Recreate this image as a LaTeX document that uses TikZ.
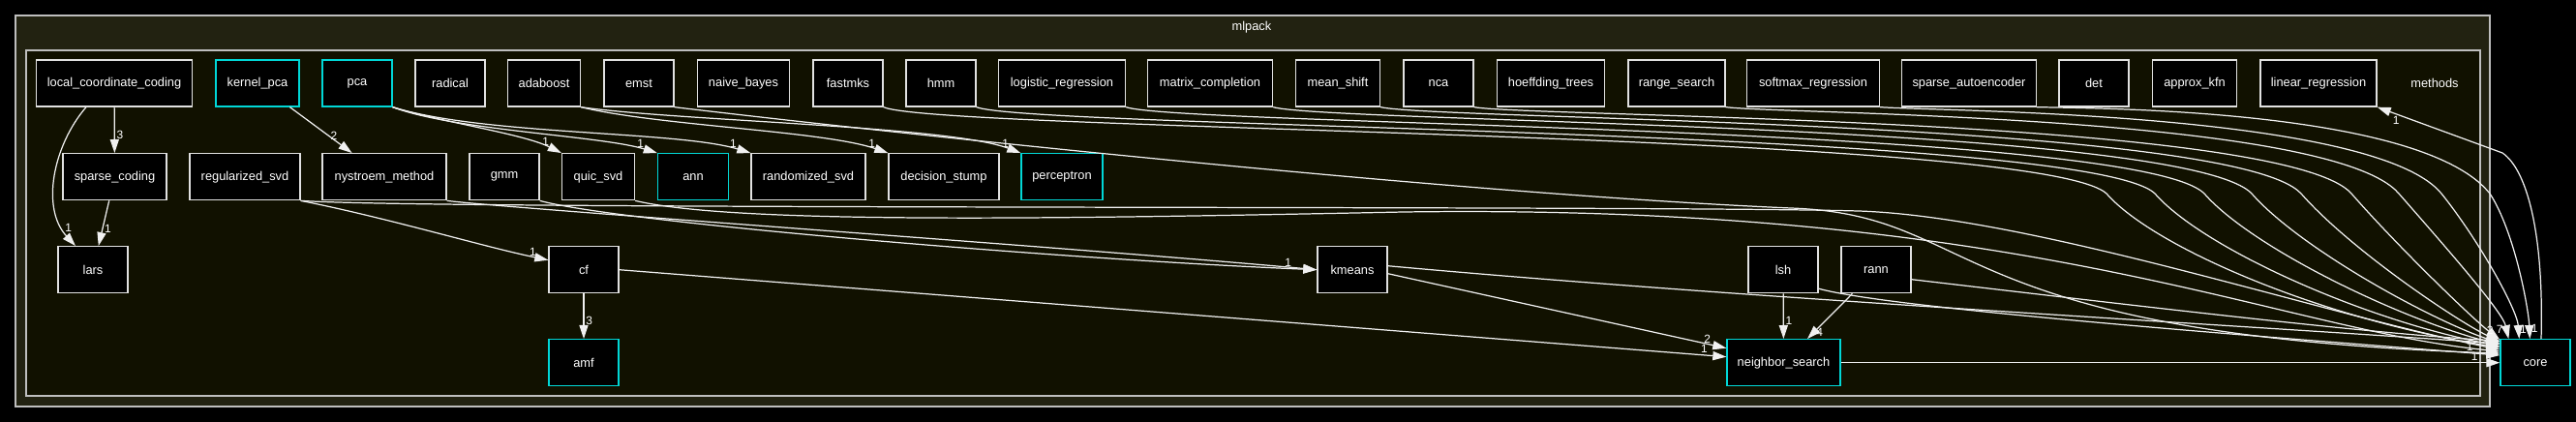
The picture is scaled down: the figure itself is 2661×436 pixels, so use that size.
\documentclass[tikz,border=0pt]{standalone}
\usepackage{fontspec}
\setmainfont{Liberation Sans}
\usepackage{tikz}
\usetikzlibrary{arrows.meta}
\definecolor{dirbg}{RGB}{17,17,0}
\definecolor{pkgbg}{RGB}{34,34,17}
\definecolor{frameline}{RGB}{190,190,190}
\definecolor{boxline}{RGB}{225,225,225}
\definecolor{dircyan}{RGB}{0,215,215}
\definecolor{edgeline}{RGB}{240,240,240}
\tikzset{
  dirbox/.style={rectangle, draw=boxline, fill=black, text=white,
    minimum width=1.44cm, minimum height=0.96cm, inner sep=0pt,
    font=\fontsize{7.3}{8.8}\selectfont, line width=0.75pt},
  cyanbox/.style={dirbox, draw=dircyan},
  clusterframe/.style={draw=frameline, line width=0.75pt},
  clusterlbl/.style={text=white, inner sep=0pt, font=\fontsize{7.3}{8.8}\selectfont},
  dep/.style={-{Triangle[length=8pt, width=5.2pt]}, line width=0.7pt, color=edgeline},
  deplbl/.style={font=\fontsize{6.8}{8}\selectfont, text=white, inner sep=1pt}
}
\begin{document}
\begin{tikzpicture}[x=0.02cm, y=-0.02cm]
  % Canvas
  \fill[black] (0,0) rectangle (2661,436);
  \useasboundingbox (0,0) rectangle (2661,436);
  % Clusters
  \filldraw[clusterframe, fill=pkgbg] (16,16) rectangle (2572,420);
  \filldraw[clusterframe, fill=dirbg] (27,52) rectangle (2562,409);
  \node[clusterlbl] (mlpacklbl) at (1293,28) {mlpack};
  \node[clusterlbl] (methodslbl) at (2515,86) {methods};
  % Row 1
  \node[dirbox, minimum width=3.22cm] (lcc) at (118,86) {local\_coordinate\_coding};
  \node[cyanbox, minimum width=1.72cm] (kernelpca) at (266,86) {kernel\_pca};
  \node[cyanbox] (pca) at (369,86) {pca};
  \node[dirbox] (radical) at (465,86) {radical};
  \node[dirbox, minimum width=1.5cm] (adaboost) at (562,86) {adaboost};
  \node[dirbox] (emst) at (660,86) {emst};
  \node[dirbox, minimum width=1.9cm] (naivebayes) at (768,86) {naive\_bayes};
  \node[dirbox] (fastmks) at (876,86) {fastmks};
  \node[dirbox] (hmm) at (972,86) {hmm};
  \node[dirbox, minimum width=2.62cm] (logreg) at (1097,86) {logistic\_regression};
  \node[dirbox, minimum width=2.58cm] (matcomp) at (1250,86) {matrix\_completion};
  \node[dirbox, minimum width=1.74cm] (meanshift) at (1382,86) {mean\_shift};
  \node[dirbox] (nca) at (1486,86) {nca};
  \node[dirbox, minimum width=2.22cm] (hoeffding) at (1602,86) {hoeffding\_trees};
  \node[dirbox, minimum width=2.0cm] (rangesearch) at (1732,86) {range\_search};
  \node[dirbox, minimum width=2.74cm] (softmax) at (1873,86) {softmax\_regression};
  \node[dirbox, minimum width=2.78cm] (sparseae) at (2034,86) {sparse\_autoencoder};
  \node[dirbox] (det) at (2163,86) {det};
  \node[dirbox, minimum width=1.74cm] (approxkfn) at (2267,86) {approx\_kfn};
  \node[dirbox, minimum width=2.4cm] (linreg) at (2395,86) {linear\_regression};
  % Row 2
  \node[dirbox, minimum width=2.14cm] (sparsecoding) at (118.5,182.7) {sparse\_coding};
  \node[dirbox, minimum width=2.28cm] (regsvd) at (253,182.7) {regularized\_svd};
  \node[dirbox, minimum width=2.56cm] (nystroem) at (397,182.7) {nystroem\_method};
  \node[dirbox] (gmm) at (521,182.7) {gmm};
  \node[dirbox, minimum width=1.5cm] (quicsvd) at (618,182.7) {quic\_svd};
  \node[cyanbox, minimum width=1.46cm] (ann) at (716,182.7) {ann};
  \node[dirbox, minimum width=2.36cm] (randsvd) at (835,182.7) {randomized\_svd};
  \node[dirbox, minimum width=2.28cm] (dstump) at (975,182.7) {decision\_stump};
  \node[cyanbox, minimum width=1.68cm] (perceptron) at (1097,182.7) {perceptron};
  % Row 3
  \node[dirbox] (lars) at (96,278.7) {lars};
  \node[dirbox] (cf) at (603,278.7) {cf};
  \node[dirbox] (kmeans) at (1397,278.7) {kmeans};
  \node[dirbox] (lsh) at (1842,278.7) {lsh};
  \node[dirbox] (rann) at (1938,278.7) {rann};
  % Row 4
  \node[cyanbox] (amf) at (603,374.7) {amf};
  \node[cyanbox, minimum width=2.34cm] (nsearch) at (1842.5,374.7) {neighbor\_search};
  \node[cyanbox] (core) at (2619,374.7) {core};

  % Short dependencies
  \draw[dep] (lcc) -- (sparsecoding) node[deplbl, pos=0.6, right] {3};
  \draw[dep] ([xshift=-0.58cm]lcc.south) .. controls (55,150) and (42,215) .. ([xshift=-0.36cm]lars.north)
    node[deplbl, pos=0.85, right] {1};
  \draw[dep] (sparsecoding) -- (lars) node[deplbl, pos=0.63, right] {1};
  \draw[dep] (kernelpca) -- (nystroem) node[deplbl, pos=0.62, right] {2};
  \draw[dep] (pca.south east) .. controls (450,125) and (540,138) .. (quicsvd.north west)
    node[deplbl, pos=0.92, above left] {1};
  \draw[dep] (pca.south east) .. controls (470,135) and (620,140) .. (ann.north west)
    node[deplbl, pos=0.94, above left] {1};
  \draw[dep] (pca.south east) .. controls (500,140) and (700,135) .. (randsvd.north west)
    node[deplbl, pos=0.95, above left] {1};
  \draw[dep] (adaboost.south east) .. controls (680,130) and (850,135) .. (dstump.north west)
    node[deplbl, pos=0.95, above left] {1};
  \draw[dep] (adaboost.south east) .. controls (700,125) and (980,130) .. (perceptron.north west)
    node[deplbl, pos=0.96, above left] {1};
  \draw[dep] (regsvd.south east) .. controls (400,225) and (500,255) .. ([yshift=0.2cm]cf.west)
    node[deplbl, pos=0.95, above left] {1};
  \draw[dep] (cf) -- (amf) node[deplbl, pos=0.6, right] {3};
  \draw[dep] (nystroem.south east) .. controls (520,215) and (1100,255) .. (kmeans.west);
  \draw[dep] (gmm.south east) .. controls (640,230) and (1100,268) .. (kmeans.west)
    node[deplbl, pos=0.97, above left] {1};
  \draw[dep] ([yshift=-0.08cm]kmeans.east) -- ([yshift=0.3cm]nsearch.west)
    node[deplbl, pos=0.96, above left] {2};
  \draw[dep] (cf.east) -- ([yshift=0.12cm]nsearch.west)
    node[deplbl, pos=0.985, above left] {1};
  \draw[dep] (lsh) -- (nsearch) node[deplbl, pos=0.6, right] {1};
  \draw[dep] (rann) -- (nsearch) node[deplbl, pos=0.85, right] {4};
  \draw[dep] (nsearch) -- (core) node[deplbl, pos=0.97, above left] {1};
  \draw[dep] ([xshift=0.12cm]core.north) .. controls (2628,240) and (2610,175) .. (2585,158)
    -- (linreg.south east) node[deplbl, pos=0.85, below] {1};

  % Top row into core
  \draw[dep] (fastmks.south east) .. controls (972,136) and (2106,136) .. (2176,200)
    .. controls (2225,256) and (2400,330) .. ([yshift=-0.18cm]core.north west);
  \draw[dep] (hmm.south east) .. controls (1068,133) and (2156,133) .. (2226,200)
    .. controls (2275,256) and (2440,330) .. ([yshift=-0.15cm]core.north west);
  \draw[dep] (logreg.south east) .. controls (1222,130) and (2207,130) .. (2277,200)
    .. controls (2326,256) and (2480,330) .. ([yshift=-0.12cm]core.north west);
  \draw[dep] (matcomp.south east) .. controls (1374,127) and (2256,127) .. (2326,200)
    .. controls (2375,256) and (2510,330) .. ([yshift=-0.09cm]core.north west);
  \draw[dep] (meanshift.south east) .. controls (1485,124) and (2307,124) .. (2377,200)
    .. controls (2426,256) and (2535,330) .. ([yshift=-0.06cm]core.north west);
  \draw[dep] (nca.south east) .. controls (1582,121) and (2359,121) .. (2429,200)
    .. controls (2478,256) and (2555,330) .. ([yshift=-0.02cm]core.north west)
    node[deplbl, pos=0.95, above left] {2};
  \draw[dep] (rangesearch.south east) .. controls (1842,118) and (2408,118) .. (2478,200)
    .. controls (2527,256) and (2585,322) .. ([xshift=0.18cm]core.north west)
    node[deplbl, pos=0.9, left] {7};
  \draw[dep] (softmax.south east) .. controls (2000,115) and (2452,115) .. (2522,200)
    .. controls (2562,250) and (2600,320) .. ([xshift=0.4cm]core.north west)
    node[deplbl, pos=0.9, right] {1};
  \draw[dep] (sparseae.south east) .. controls (2163,112) and (2502,112) .. (2572,200)
    .. controls (2598,240) and (2612,320) .. ([xshift=0.62cm]core.north west)
    node[deplbl, pos=0.9, right] {1};

  % Lower routes into core
  \draw[dep] (emst.south east) .. controls (900,135) and (1500,200) .. (1850,215)
    .. controls (2050,222) and (2000,345) .. ([yshift=-0.3cm]core.north west);
  \draw[dep] (regsvd.south east) .. controls (450,217) and (1700,212) .. (1920,218)
    .. controls (2100,224) and (2400,325) .. ([yshift=-0.22cm]core.north west);
  \draw[dep] (quicsvd.south east) .. controls (760,232) and (1100,226) .. (1450,219)
    .. controls (2100,210) and (2350,340) .. ([yshift=-0.26cm]core.north west);
  \draw[dep] ([yshift=0.08cm]kmeans.east) .. controls (1800,308) and (2300,335) .. ([yshift=-0.1cm]core.north west);
  \draw[dep] ([yshift=-0.39cm]lsh.east) .. controls (1950,318) and (2300,345) .. ([yshift=-0.34cm]core.north west)
    node[deplbl, pos=0.97, above left] {1};
  \draw[dep] ([yshift=-0.2cm]rann.east) .. controls (2200,315) and (2450,345) .. ([yshift=-0.04cm]core.north west);
\end{tikzpicture}
\end{document}
